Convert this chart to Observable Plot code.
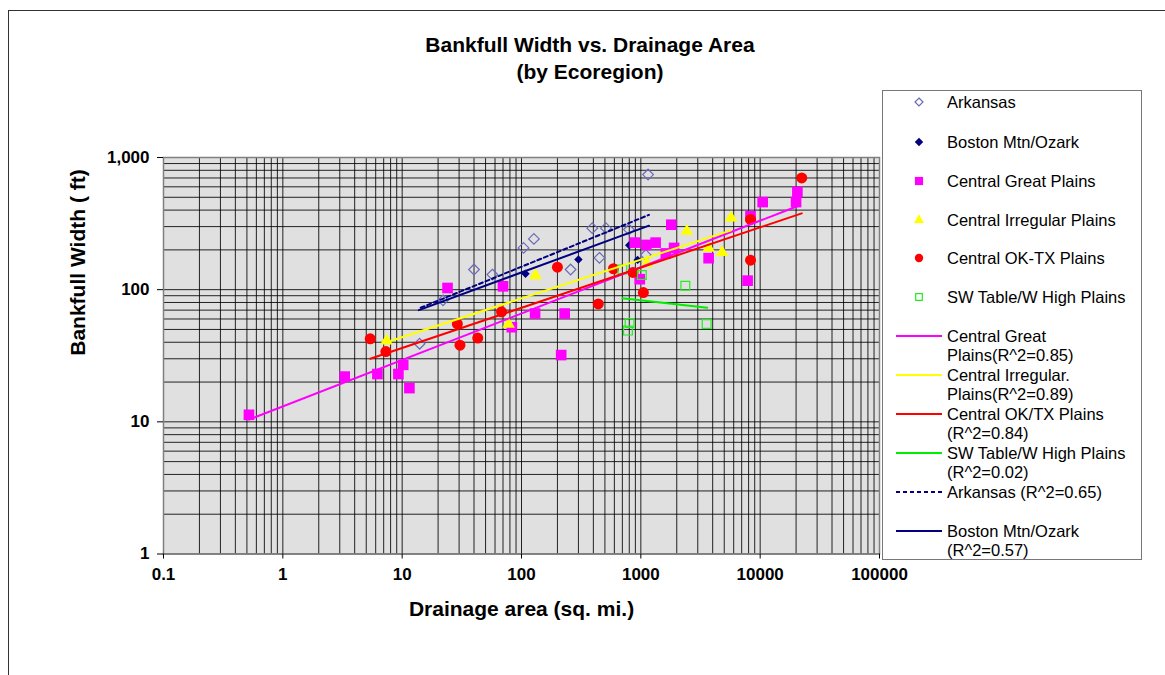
<!DOCTYPE html>
<html><head><meta charset="utf-8">
<script src="https://cdn.jsdelivr.net/npm/d3@7"></script>
<script src="https://cdn.jsdelivr.net/npm/@observablehq/plot@0.6"></script>
<style>
body{margin:0;background:#fff;font-family:"Liberation Sans",Arial,sans-serif;}
#wrap{position:relative;width:1165px;height:675px;overflow:hidden;}
#border{position:absolute;left:8px;top:10px;width:1200px;height:700px;border:1px solid #333;}
#title{position:absolute;left:0;top:31px;width:1180px;text-align:center;font-weight:bold;font-size:21px;line-height:27px;color:#000;}
#chart{position:absolute;left:0;top:0;}
#legend{position:absolute;left:882px;top:90px;width:258px;height:468px;border:1px solid #777;background:#fff;}
#legend svg{display:block;}
</style>
</head><body>
<div id="wrap">
<div id="border"></div>
<div id="chart"></div>
<div id="title">Bankfull Width vs. Drainage Area<br>(by Ecoregion)</div>
<div id="legend"></div>
</div>
<script>
// ---- Data ----
const xTicks = [0.1, 1, 10, 100, 1000, 10000, 100000];
const xTickLabels = ["0.1", "1", "10", "100", "1000", "10000", "100000"];
const yTicks = [1, 10, 100, 1000];
const yTickLabels = ["1", "10", "100", "1,000"];
const gridSteps = [1, 2, 3, 4, 5, 6, 7, 8, 9];

const xTitle = "Drainage area (sq. mi.)";
const yTitle = "Bankfull Width ( ft)";

// Arkansas (open diamonds)
const arkansasArea  = [14, 22, 40, 57, 104, 127, 258, 392, 450, 510, 795, 1100, 1150];
const arkansasWidth = [39, 83, 142, 130, 207, 242, 142, 292, 174, 292, 285, 183, 743];
// Boston Mtn/Ozark (filled diamonds)
const bostonArea  = [108, 300, 800, 940];
const bostonWidth = [132, 169, 217, 168];
// Central Great Plains (squares)
const cgpArea  = [0.52, 3.3, 6.2, 9.3, 10.2, 11.5, 24, 70, 83, 130, 215, 230, 890, 980, 1110, 1330, 1620, 1800, 1900, 3700, 7850, 8300, 10500, 20000, 20500];
const cgpWidth = [11.3, 22, 23, 23, 27, 18, 103, 106, 52, 66, 32, 66, 227, 120, 218, 227, 188, 310, 207, 173, 117, 360, 460, 460, 550];
// Central Irregular Plains (triangles)
const cipArea  = [7.4, 78, 131, 1125, 2430, 3700, 4800, 5700];
const cipWidth = [41, 55, 128, 158, 277, 206, 192, 350];
// Central OK-TX Plains (circles)
const cotArea  = [5.4, 7.3, 29, 30.5, 43, 68, 200, 440, 590, 860, 1050, 8300, 8300, 22300];
const cotWidth = [42.5, 34, 55, 38, 43, 68, 148, 78, 144, 135, 95, 340, 167, 700];
// SW Table/W High Plains (open squares)
const swArea  = [700, 780, 805, 1020, 2360, 3560];
const swWidth = [142, 49, 56, 129, 107, 55];

// Trend lines (power fits, end points)
const cgpTrendArea = [0.52, 20500],  cgpTrendWidth = [10.4, 428];
const cipTrendArea = [7.4, 5700],    cipTrendWidth = [40, 281];
const cotTrendArea = [5.4, 22300],   cotTrendWidth = [30, 378];
const swTrendArea  = [700, 3600],    swTrendWidth  = [86, 73];
const arkTrendArea = [14.3, 1170],   arkTrendWidth = [73, 368];
const bosTrendArea = [13.8, 1170],   bosTrendWidth = [70, 305];

const pointSeries = [
  {name: "Arkansas", area: arkansasArea, width: arkansasWidth, symbol: "diamond2", fill: "none", stroke: "#6a6ab8", r: 4.8, lr: 3.6},
  {name: "Boston Mtn/Ozark", area: bostonArea, width: bostonWidth, symbol: "diamond2", fill: "#000080", stroke: "none", r: 3.8, lr: 3.8},
  {name: "Central Great Plains", area: cgpArea, width: cgpWidth, symbol: "square", fill: "#ff00ff", stroke: "none", r: 6.0, lr: 4.6},
  {name: "Central Irregular Plains", area: cipArea, width: cipWidth, symbol: "triangle", fill: "#ffff00", stroke: "none", r: 4.7, lr: 3.7},
  {name: "Central OK-TX Plains", area: cotArea, width: cotWidth, symbol: "circle", fill: "#ff0000", stroke: "none", r: 5.5, lr: 4.2},
  {name: "SW Table/W High Plains", area: swArea, width: swWidth, symbol: "square2", fill: "none", stroke: "#22ee22", r: 5.6, lr: 4.2}
];
const trendSeries = [
  {label: ["Central Great", "Plains(R^2=0.85)"], area: cgpTrendArea, width: cgpTrendWidth, stroke: "#ff00ff", dash: null},
  {label: ["Central Irregular.", "Plains(R^2=0.89)"], area: cipTrendArea, width: cipTrendWidth, stroke: "#ffff00", dash: null},
  {label: ["Central OK/TX Plains", "(R^2=0.84)"], area: cotTrendArea, width: cotTrendWidth, stroke: "#ff0000", dash: null},
  {label: ["SW Table/W High Plains", "(R^2=0.02)"], area: swTrendArea, width: swTrendWidth, stroke: "#00ee00", dash: null},
  {label: ["Arkansas (R^2=0.65)"], area: arkTrendArea, width: arkTrendWidth, stroke: "#000080", dash: "4,3"},
  {label: ["Boston Mtn/Ozark", "(R^2=0.57)"], area: bosTrendArea, width: bosTrendWidth, stroke: "#000080", dash: null}
];

const rows = (a, w) => a.map((v, i) => ({area: v, width: w[i]}));
const xGrid = xTicks.slice(0, -1).flatMap(d => gridSteps.map(m => +(d * m).toPrecision(6))).concat([xTicks[xTicks.length - 1]]);
const yGrid = yTicks.slice(0, -1).flatMap(d => gridSteps.map(m => +(d * m).toPrecision(6))).concat([yTicks[yTicks.length - 1]]);

const font = '"Liberation Sans", Arial, sans-serif';

const chart = Plot.plot({
  width: 1165, height: 675,
  marginLeft: 163, marginRight: 286, marginTop: 157, marginBottom: 121.5,
  x: {type: "log", domain: [0.1, 100000], label: null},
  y: {type: "log", domain: [1, 1000], label: null},
  style: {background: "transparent", fontFamily: font, color: "#000", overflow: "visible"},
  marks: [
    Plot.frame({fill: "#e0e0e0", stroke: null}),
    Plot.ruleX(xGrid, {x: d => d, stroke: "#000", strokeOpacity: 0.85, strokeWidth: 1}),
    Plot.ruleY(yGrid, {y: d => d, stroke: "#000", strokeOpacity: 0.85, strokeWidth: 1}),
    Plot.frame({stroke: "#808080", strokeWidth: 1.5}),
    Plot.axisX({ticks: xTicks, tickFormat: d => xTickLabels[xTicks.indexOf(d)], tickSize: 5, tickPadding: 9, fontSize: 17, fontWeight: "bold", label: null, stroke: "#000"}),
    Plot.axisY({ticks: yTicks, tickFormat: d => yTickLabels[yTicks.indexOf(d)], tickSize: 6, tickPadding: 8, fontSize: 17, fontWeight: "bold", label: null, stroke: "#000"}),
    ...pointSeries.map(s => Plot.dot(rows(s.area, s.width), {
      x: "area", y: "width", symbol: s.symbol, r: s.r, fill: s.fill, stroke: s.stroke, strokeWidth: 1.2
    })),
    ...trendSeries.map(s => Plot.line(rows(s.area, s.width), {
      x: "area", y: "width", stroke: s.stroke, strokeWidth: 2, strokeDasharray: s.dash
    })),
    Plot.text([xTitle], {text: d => d, frameAnchor: "bottom", dy: 55, lineAnchor: "middle", fontSize: 21, fontWeight: "bold"}),
    Plot.text([yTitle], {text: d => d, frameAnchor: "left", dx: -85, rotate: -90, lineAnchor: "middle", fontSize: 21, fontWeight: "bold"})
  ]
});
document.getElementById("chart").appendChild(chart);

// ---- Legend ----
const lg = d3.select("#legend").append("svg").attr("width", 258).attr("height", 468)
  .style("font-family", font).style("font-size", "16.5px");
const symbolMap = {diamond2: d3.symbolDiamond2, square: d3.symbolSquare, triangle: d3.symbolTriangle, circle: d3.symbolCircle, square2: d3.symbolSquare2};
const markerY = [11, 51, 90, 129, 167, 206];
pointSeries.forEach((s, i) => {
  lg.append("path")
    .attr("transform", `translate(36,${markerY[i]})`)
    .attr("d", d3.symbol(symbolMap[s.symbol], Math.PI * s.lr * s.lr)())
    .attr("fill", s.fill).attr("stroke", s.stroke).attr("stroke-width", 1.2);
  lg.append("text").attr("x", 64).attr("y", markerY[i]).attr("dy", "0.35em").text(s.name);
});
const lineY = [245, 284, 323, 362, 401, 440];
trendSeries.forEach((s, i) => {
  lg.append("line").attr("x1", 13).attr("x2", 59).attr("y1", lineY[i]).attr("y2", lineY[i])
    .attr("stroke", s.stroke).attr("stroke-width", 2).attr("stroke-dasharray", s.dash);
  s.label.forEach((t, j) => {
    lg.append("text").attr("x", 64).attr("y", lineY[i] + j * 19).attr("dy", "0.35em").text(t);
  });
});
</script>
</body></html>
